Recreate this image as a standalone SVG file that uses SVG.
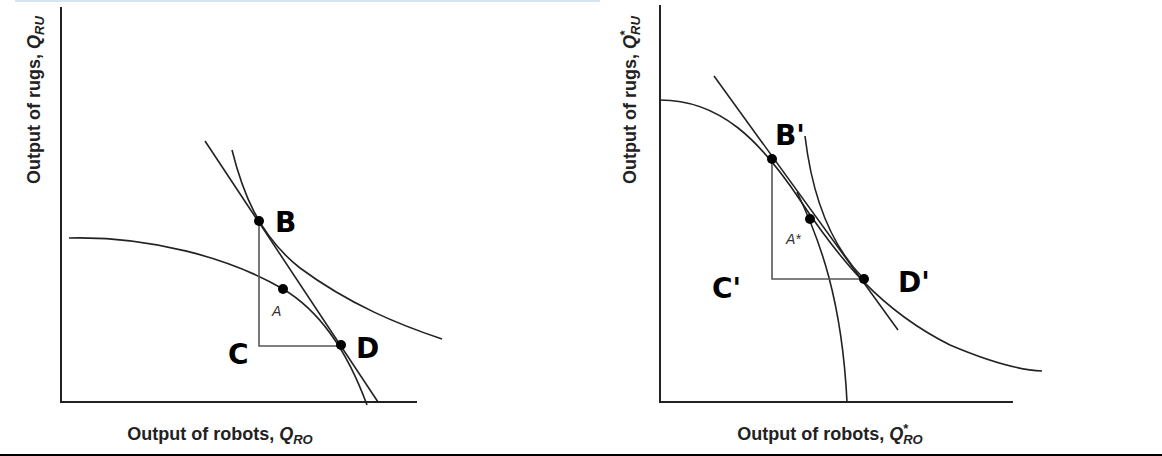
<svg xmlns="http://www.w3.org/2000/svg" width="1162" height="456" viewBox="0 0 1162 456">
<style>
.ax{stroke:#222;stroke-width:2;fill:none}
.c{stroke:#222;stroke-width:1.6;fill:none}
.t{stroke:#555;stroke-width:1.6;fill:none}
.lab{font-family:"Liberation Sans",Arial,sans-serif;font-weight:bold;font-size:18px;fill:#222}
.hw{font-family:"DejaVu Sans",sans-serif;font-weight:bold;font-size:28px;fill:#000}
.sm{font-family:"Liberation Sans",Arial,sans-serif;font-style:italic;font-size:14px;fill:#333}
</style>
<rect width="1162" height="456" fill="#fff"/>
<line x1="15" y1="1" x2="600" y2="1" stroke="#d8e2f0" stroke-width="2"/>
<line x1="0" y1="455" x2="1162" y2="455" stroke="#000" stroke-width="2"/>
<g id="left">
<path class="ax" d="M61,7 V402 H417"/>
<path class="c" d="M69,238 C150,236 230,258 283,289 C315,308 345,345 367,405"/>
<path class="c" d="M232,150 C242,190 258,235 300,268 C350,305 400,325 442,339"/>
<line class="c" x1="205" y1="141" x2="378" y2="402"/>
<path class="t" d="M259,221 V346 H341"/>
<circle cx="259" cy="221" r="5"/><circle cx="283" cy="289" r="5"/><circle cx="341" cy="345" r="5"/>
<text class="hw" x="275" y="232">B</text>
<text class="hw" x="228" y="364">C</text>
<text class="hw" x="356" y="358">D</text>
<text class="sm" x="272" y="316">A</text>
<text class="lab" transform="translate(40,100) rotate(-90)" text-anchor="middle">Output of rugs, <tspan font-style="italic">Q<tspan font-size="13" dy="4">RU</tspan></tspan></text>
<text class="lab" x="220" y="440" text-anchor="middle">Output of robots, <tspan font-style="italic">Q<tspan font-size="13" dy="4">RO</tspan></tspan></text>
</g>
<g id="right">
<path class="ax" d="M660,5 V402 H1013"/>
<path class="c" d="M660,100 C720,100 760,140 800,200 C840,260 880,310 950,345 C990,362 1020,370 1042,371"/>
<path class="c" d="M805,136 C812,195 830,245 864,279"/>
<path class="c" d="M797,192 C820,240 842,300 847,402"/>
<line class="c" x1="714" y1="76" x2="898" y2="330"/>
<path class="t" d="M772,159 V279 H864"/>
<circle cx="772" cy="159" r="5"/><circle cx="810" cy="219" r="5"/><circle cx="864" cy="279" r="5"/>
<text class="hw" x="775" y="145">B'</text>
<text class="hw" x="712" y="298">C'</text>
<text class="hw" x="898" y="292">D'</text>
<text class="sm" x="786" y="244">A*</text>
<text class="lab" transform="translate(636,100) rotate(-90)" text-anchor="middle">Output of rugs, <tspan font-style="italic">Q<tspan font-size="13" dy="4">RU</tspan><tspan font-size="13" dx="-20" dy="-11">*</tspan></tspan></text>
<text class="lab" x="830" y="440" text-anchor="middle">Output of robots, <tspan font-style="italic">Q<tspan font-size="13" dy="4">RO</tspan><tspan font-size="13" dx="-20" dy="-11">*</tspan></tspan></text>
</g>
</svg>
